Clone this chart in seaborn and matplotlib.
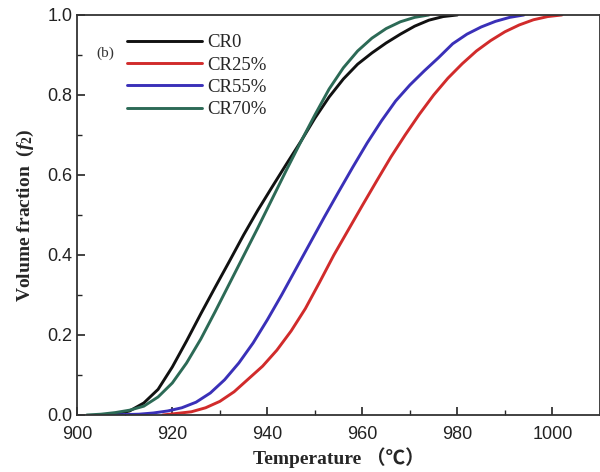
import matplotlib

matplotlib.use("Agg")
import matplotlib.pyplot as plt
import numpy as np
import pandas as pd
import seaborn as sns
from matplotlib.ticker import MultipleLocator

# değerler (sıcaklık °C, hacim oranı f2)
cr0_temp = [905, 908, 911, 914, 917, 920, 923, 926, 929, 932, 935, 938, 941, 944,
            947, 950, 953, 956, 959, 962, 965, 968, 971, 974, 977, 980]
cr0_frac = [0.0, 0.002, 0.01, 0.03, 0.064, 0.12, 0.185, 0.253, 0.319, 0.384, 0.45,
            0.512, 0.57, 0.627, 0.683, 0.742, 0.795, 0.84, 0.877, 0.905, 0.93,
            0.952, 0.972, 0.987, 0.996, 1.0]

cr25_temp = [918, 921, 924, 927, 930, 933, 936, 939, 942, 945, 948, 951, 954, 957,
             960, 963, 966, 969, 972, 975, 978, 981, 984, 987, 990, 993, 996, 999, 1002]
cr25_frac = [0.0, 0.004, 0.008, 0.018, 0.034, 0.058, 0.09, 0.122, 0.162, 0.21,
             0.266, 0.332, 0.4, 0.462, 0.524, 0.585, 0.645, 0.7, 0.752, 0.8,
             0.842, 0.878, 0.91, 0.936, 0.958, 0.975, 0.988, 0.996, 1.0]

cr55_temp = [907, 910, 913, 916, 919, 922, 925, 928, 931, 934, 937, 940, 943, 946,
             949, 952, 955, 958, 961, 964, 967, 970, 973, 976, 979, 982, 985, 988,
             991, 994]
cr55_frac = [0.0, 0.001, 0.002, 0.005, 0.01, 0.018, 0.032, 0.055, 0.088, 0.13,
             0.18, 0.238, 0.3, 0.365, 0.43, 0.495, 0.558, 0.62, 0.68, 0.735,
             0.785, 0.825, 0.86, 0.893, 0.928, 0.952, 0.97, 0.984, 0.994, 1.0]

cr70_temp = [902, 905, 908, 911, 914, 917, 920, 923, 926, 929, 932, 935, 938, 941,
             944, 947, 950, 953, 956, 959, 962, 965, 968, 971, 974]
cr70_frac = [0.0, 0.002, 0.006, 0.012, 0.022, 0.045, 0.08, 0.13, 0.19, 0.258,
             0.328, 0.398, 0.468, 0.54, 0.612, 0.682, 0.75, 0.815, 0.868, 0.91,
             0.942, 0.966, 0.983, 0.994, 1.0]

etiketler = ["CR0", "CR25%", "CR55%", "CR70%"]
renkler = {"CR0": "#111111", "CR25%": "#d12b2b", "CR55%": "#3a30b8", "CR70%": "#2c6a56"}

parcalar = []
for ad, t, f in zip(etiketler,
                    [cr0_temp, cr25_temp, cr55_temp, cr70_temp],
                    [cr0_frac, cr25_frac, cr55_frac, cr70_frac]):
    parcalar.append(pd.DataFrame({"temp": t, "frac": f, "seri": ad}))
df = pd.concat(parcalar, ignore_index=True)

sns.set_theme(style="ticks")
plt.rcParams["font.family"] = ["Liberation Sans", "DejaVu Sans"]
plt.rcParams["mathtext.fontset"] = "custom"
plt.rcParams["mathtext.it"] = "Liberation Serif:italic:bold"
plt.rcParams["mathtext.rm"] = "Liberation Serif:bold"

fig = plt.figure(figsize=(6, 4.72), dpi=100)
ax = fig.add_axes([0.1288, 0.1208, 0.8712, 0.8475])

sns.lineplot(data=df, x="temp", y="frac", hue="seri", hue_order=etiketler,
             palette=renkler, estimator=None, linewidth=2.1, ax=ax)

ax.set_xlim(900, 1010)
ax.set_ylim(0, 1.0)
ax.xaxis.set_major_locator(MultipleLocator(20))
ax.xaxis.set_minor_locator(MultipleLocator(10))
ax.yaxis.set_minor_locator(MultipleLocator(0.1))
ax.set_yticks(np.arange(0, 1.01, 0.2))
ax.set_yticklabels([f"{v:.1f}" for v in np.arange(0, 1.01, 0.2)])
ax.tick_params(which="major", direction="in", length=6, width=1.2,
               labelsize=13, colors="#222222")
ax.tick_params(axis="x", which="major", pad=8)
ax.tick_params(which="minor", direction="in", length=3.5, width=1.0)
for sp in ax.spines.values():
    sp.set_linewidth(1.3)
    sp.set_color("#333333")

ax.set_xlabel("Temperature （℃）", fontsize=14, fontweight="bold",
              family=["Liberation Serif", "Noto Sans CJK SC"], labelpad=3)
ax.set_ylabel(r"Volume fraction  ($f_2$)", fontsize=14, fontweight="bold",
              family=["Liberation Serif"], labelpad=8)

handles, labels = ax.get_legend_handles_labels()
ax.legend(handles, labels, loc="upper left", bbox_to_anchor=(0.095, 0.952),
          frameon=False, borderaxespad=0, borderpad=0, handlelength=4.0,
          handletextpad=0.3, labelspacing=0.28,
          prop={"family": "Liberation Serif", "size": 13.5})
ax.text(0.053, 0.905, "(b)", transform=ax.transAxes, fontsize=11,
        family="Liberation Serif", ha="center", va="center", color="#333333")

fig.savefig("out.png", dpi=100)
